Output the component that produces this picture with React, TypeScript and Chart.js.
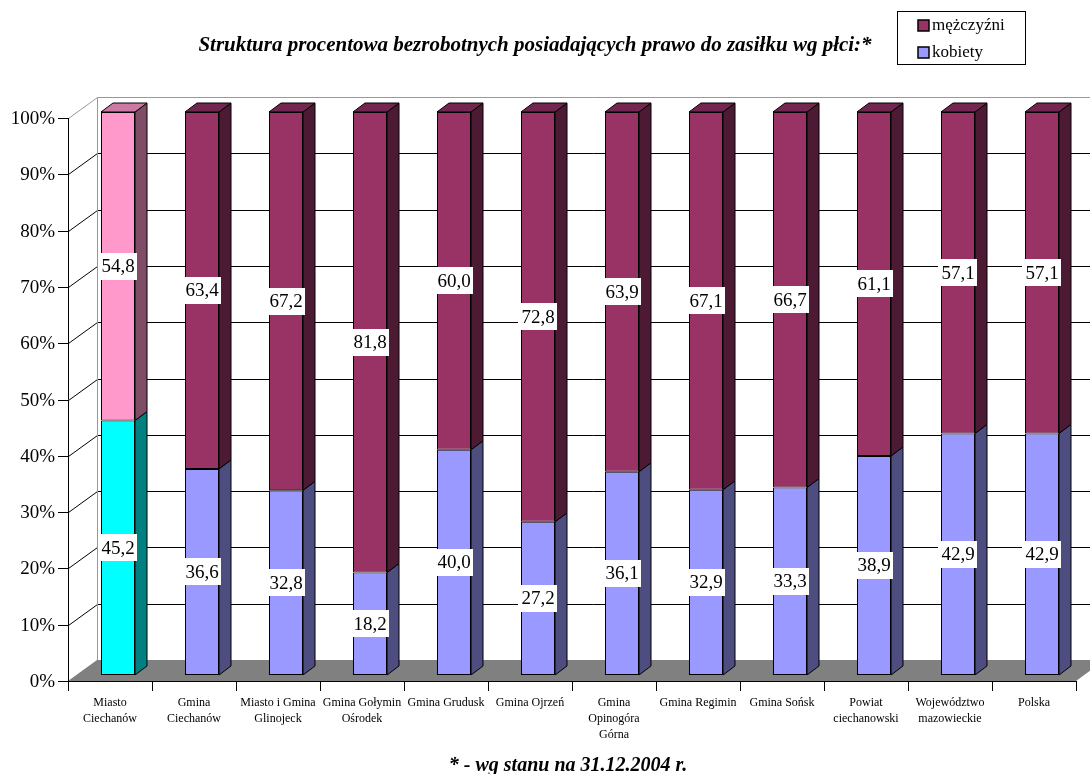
import React, { useEffect, useRef } from 'react';
import { Chart, registerables } from 'chart.js';

Chart.register(...registerables);

const title = 'Struktura procentowa bezrobotnych posiadających prawo do zasiłku wg płci:*';
const footnote = '* - wg stanu na 31.12.2004 r.';

const categories: string[][] = [
  ['Miasto', 'Ciechanów'],
  ['Gmina', 'Ciechanów'],
  ['Miasto i Gmina', 'Glinojeck'],
  ['Gmina Gołymin', 'Ośrodek'],
  ['Gmina Grudusk'],
  ['Gmina Ojrzeń'],
  ['Gmina', 'Opinogóra', 'Górna'],
  ['Gmina Regimin'],
  ['Gmina Sońsk'],
  ['Powiat', 'ciechanowski'],
  ['Województwo', 'mazowieckie'],
  ['Polska'],
];

const kobiety = [45.2, 36.6, 32.8, 18.2, 40.0, 27.2, 36.1, 32.9, 33.3, 38.9, 42.9, 42.9];
const mezczyzni = [54.8, 63.4, 67.2, 81.8, 60.0, 72.8, 63.9, 67.1, 66.7, 61.1, 57.1, 57.1];

const yTickValues = [0, 10, 20, 30, 40, 50, 60, 70, 80, 90, 100];
const yTickLabels = ['0%', '10%', '20%', '30%', '40%', '50%', '60%', '70%', '80%', '90%', '100%'];

const seriesLabels = ['kobiety', 'mężczyźni'];

// colours: first bar highlighted differently
const kFront = kobiety.map((_, i) => (i === 0 ? '#00FFFF' : '#9999FF'));
const kSide = kobiety.map((_, i) => (i === 0 ? '#008080' : '#4D4D80'));
const kTop = kobiety.map((_, i) => (i === 0 ? '#00CCCC' : '#7A7ACC'));
const mFront = mezczyzni.map((_, i) => (i === 0 ? '#FF99CC' : '#993366'));
const mSide = mezczyzni.map((_, i) => (i === 0 ? '#804D66' : '#4D1A33'));
const mTop = mezczyzni.map((_, i) => (i === 0 ? '#CC7AA3' : '#732650'));

const FONT = '"Liberation Serif", "Times New Roman", serif';

// 3D geometry
const WALL_DX = 29;
const WALL_DY = 21;
const BAR_DX = 12;
const BAR_DY = 9;
const SHIFT_X = 8;
const SHIFT_Y = -6;

const fmt = (v: number) => v.toFixed(1).replace('.', ',');

const threeDPlugin = {
  id: 'threeD',
  beforeDatasetsDraw(chart: any) {
    const { ctx, chartArea } = chart;
    const { left, right, top, bottom } = chartArea;
    const xs = chart.scales.x;
    const ys = chart.scales.y;
    ctx.save();

    // floor
    ctx.fillStyle = '#808080';
    ctx.beginPath();
    ctx.moveTo(left, bottom);
    ctx.lineTo(right, bottom);
    ctx.lineTo(right + WALL_DX, bottom - WALL_DY);
    ctx.lineTo(left + WALL_DX, bottom - WALL_DY);
    ctx.closePath();
    ctx.fill();

    // back wall gridlines and left wall diagonals
    ctx.lineWidth = 1;
    yTickValues.forEach((v) => {
      if (v === 0) return;
      const py = Math.round(ys.getPixelForValue(v)) + 0.5;
      ctx.strokeStyle = v === 100 ? '#999999' : '#000000';
      ctx.beginPath();
      ctx.moveTo(left + WALL_DX + 0.5, py - WALL_DY);
      ctx.lineTo(chart.width, py - WALL_DY);
      ctx.stroke();
      ctx.beginPath();
      ctx.moveTo(left + 0.5, py);
      ctx.lineTo(left + WALL_DX + 0.5, py - WALL_DY);
      ctx.stroke();
    });
    // back wall left edge
    ctx.strokeStyle = '#999999';
    ctx.beginPath();
    ctx.moveTo(left + WALL_DX + 0.5, Math.round(top) - WALL_DY + 0.5);
    ctx.lineTo(left + WALL_DX + 0.5, Math.round(bottom) - WALL_DY);
    ctx.stroke();

    // front y axis
    ctx.strokeStyle = '#000000';
    ctx.beginPath();
    ctx.moveTo(left + 0.5, top);
    ctx.lineTo(left + 0.5, bottom);
    ctx.stroke();
    ctx.font = `19px ${FONT}`;
    ctx.fillStyle = '#000000';
    ctx.textAlign = 'right';
    ctx.textBaseline = 'middle';
    yTickValues.forEach((v, i) => {
      const py = Math.round(ys.getPixelForValue(v)) + 0.5;
      ctx.beginPath();
      ctx.moveTo(left - 10, py);
      ctx.lineTo(left + 0.5, py);
      ctx.stroke();
      ctx.fillText(yTickLabels[i], left - 13, py + 1);
    });

    // front x axis
    const half = (xs.getPixelForValue(1) - xs.getPixelForValue(0)) / 2;
    ctx.beginPath();
    ctx.moveTo(left, Math.round(bottom) + 0.5);
    ctx.lineTo(right, Math.round(bottom) + 0.5);
    ctx.stroke();
    for (let i = 0; i <= categories.length; i++) {
      const px = Math.round(xs.getPixelForValue(0) - half + i * 2 * half) + 0.5;
      ctx.beginPath();
      ctx.moveTo(px, bottom);
      ctx.lineTo(px, bottom + 10);
      ctx.stroke();
    }
    ctx.font = `12px ${FONT}`;
    ctx.textAlign = 'center';
    ctx.textBaseline = 'middle';
    categories.forEach((lines, i) => {
      const cx = xs.getPixelForValue(i);
      lines.forEach((ln, j) => {
        ctx.fillText(ln, cx, bottom + 22 + j * 16);
      });
    });
    ctx.restore();

    ctx.save();
    ctx.translate(SHIFT_X, SHIFT_Y);
  },
  afterDatasetsDraw(chart: any) {
    const { ctx } = chart;
    const sides = [kSide, mSide];
    const tops = [kTop, mTop];
    const nds = chart.data.datasets.length;
    ctx.lineWidth = 1;
    ctx.strokeStyle = '#000000';
    ctx.lineJoin = 'miter';
    for (let d = 0; d < nds; d++) {
      const meta = chart.getDatasetMeta(d);
      meta.data.forEach((el: any, i: number) => {
        const { x, y, base, width } = el.getProps(['x', 'y', 'base', 'width'], true);
        const xl = x - width / 2;
        const xr = x + width / 2;
        // side
        ctx.fillStyle = sides[d][i];
        ctx.beginPath();
        ctx.moveTo(xr, y);
        ctx.lineTo(xr + BAR_DX, y - BAR_DY);
        ctx.lineTo(xr + BAR_DX, base - BAR_DY);
        ctx.lineTo(xr, base);
        ctx.closePath();
        ctx.fill();
        ctx.stroke();
        // top (only for topmost dataset)
        if (d === nds - 1) {
          ctx.fillStyle = tops[d][i];
          ctx.beginPath();
          ctx.moveTo(xl, y);
          ctx.lineTo(xr, y);
          ctx.lineTo(xr + BAR_DX, y - BAR_DY);
          ctx.lineTo(xl + BAR_DX, y - BAR_DY);
          ctx.closePath();
          ctx.fill();
          ctx.stroke();
        }
      });
    }
    ctx.restore();

    // data labels
    ctx.save();
    ctx.font = `19px ${FONT}`;
    ctx.textAlign = 'center';
    ctx.textBaseline = 'middle';
    for (let d = 0; d < nds; d++) {
      const meta = chart.getDatasetMeta(d);
      const values = chart.data.datasets[d].data as number[];
      meta.data.forEach((el: any, i: number) => {
        const { x, y, base } = el.getProps(['x', 'y', 'base'], true);
        const cx = x + SHIFT_X;
        const cy = (y + base) / 2 + SHIFT_Y;
        const txt = fmt(values[i]);
        const w = ctx.measureText(txt).width + 6;
        const h = 27;
        ctx.fillStyle = '#FFFFFF';
        ctx.fillRect(Math.round(cx - w / 2), Math.round(cy - h / 2), Math.round(w), h);
        ctx.fillStyle = '#000000';
        ctx.fillText(txt, cx, cy + 1);
      });
    }
    ctx.restore();
  },
  afterDraw(chart: any) {
    const { ctx } = chart;
    ctx.save();
    ctx.fillStyle = '#000000';
    ctx.textAlign = 'center';
    ctx.textBaseline = 'alphabetic';
    ctx.font = `italic bold 21px ${FONT}`;
    ctx.fillText(title, 535, 51);
    ctx.font = `italic bold 20px ${FONT}`;
    ctx.fillText(footnote, 568, 771);

    // legend
    ctx.strokeStyle = '#000000';
    ctx.lineWidth = 1;
    ctx.strokeRect(897.5, 11.5, 128, 53);
    const legendItems = [
      { label: seriesLabels[1], color: mFront[1] },
      { label: seriesLabels[0], color: kFront[1] },
    ];
    ctx.font = `17px ${FONT}`;
    ctx.textAlign = 'left';
    ctx.textBaseline = 'middle';
    legendItems.forEach((it, i) => {
      const my = 20 + i * 27;
      ctx.fillStyle = it.color;
      ctx.fillRect(918, my, 11, 11);
      ctx.lineWidth = 1.5;
      ctx.strokeRect(918, my, 11, 11);
      ctx.fillStyle = '#000000';
      ctx.fillText(it.label, 932, my + 6);
    });
    ctx.restore();
  },
};

export default function App() {
  const canvasRef = useRef<HTMLCanvasElement | null>(null);

  useEffect(() => {
    if (!canvasRef.current) return;
    const chart = new Chart(canvasRef.current, {
      type: 'bar',
      data: {
        labels: categories.map((c) => c.join(' ')),
        datasets: [
          {
            label: seriesLabels[0],
            data: kobiety,
            backgroundColor: kFront,
            borderColor: '#000000',
            borderWidth: 1,
            borderSkipped: false,
            clip: false as any,
          },
          {
            label: seriesLabels[1],
            data: mezczyzni,
            backgroundColor: mFront,
            borderColor: '#000000',
            borderWidth: 1,
            borderSkipped: false,
            clip: false as any,
          },
        ],
      },
      options: {
        responsive: false,
        animation: false,
        devicePixelRatio: 1,
        layout: { padding: { left: 68, top: 118, right: 14, bottom: 93 } },
        datasets: { bar: { categoryPercentage: 1, barPercentage: 0.405 } },
        plugins: {
          legend: { display: false },
          tooltip: { enabled: false },
          title: { display: false },
        },
        scales: {
          x: { stacked: true, display: false },
          y: { stacked: true, display: false, min: 0, max: 100 },
        },
      },
      plugins: [threeDPlugin],
    });
    return () => chart.destroy();
  }, []);

  return (
    <div style={{ position: 'absolute', left: 0, top: 0, width: 1090, height: 774, background: '#ffffff' }}>
      <canvas ref={canvasRef} width={1090} height={774} style={{ display: 'block' }} />
    </div>
  );
}
